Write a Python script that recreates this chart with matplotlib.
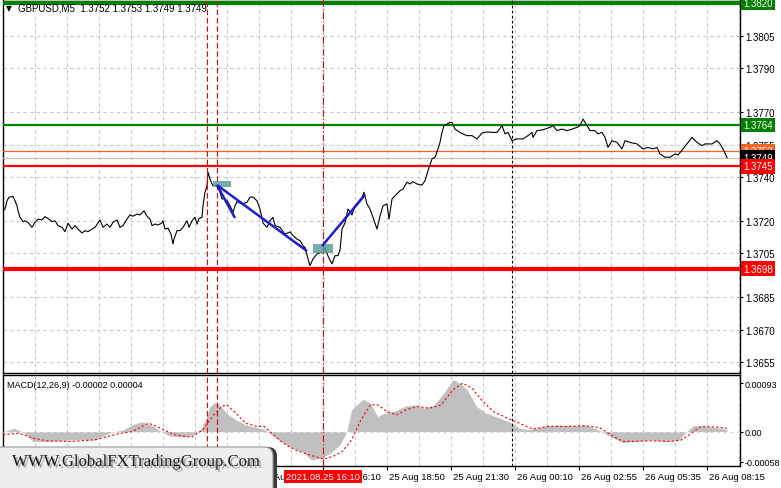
import matplotlib
matplotlib.use("Agg")
import matplotlib.pyplot as plt
import matplotlib.patheffects as pe
from matplotlib.patches import FancyBboxPatch, Rectangle
from matplotlib.transforms import IdentityTransform, blended_transform_factory

plt.rcParams['font.family'] = ['Liberation Sans', 'DejaVu Sans']

# ---- price line (M5 bar index, close) ----
bars = [0, 1, 2, 3, 5, 6, 7, 7.5, 8.5, 10, 11, 12.5, 14.5, 16, 17.5, 19.5, 21, 22.5, 24.5, 26,
        27.5, 29.5, 31, 32.5, 34.5, 36, 37.5, 39.5, 41, 42.5, 44.5, 46, 48.5, 50, 52, 53.5, 55, 57,
        58.5, 60, 62, 63.5, 65, 67, 68.5, 70.5, 72, 73.5, 74.5, 76, 77.5, 79.5, 80, 81, 82.5, 84,
        85, 85.5, 87, 88.5, 90, 92, 93, 94.5, 96, 97, 98, 99.5, 100, 101, 102, 102.5, 103.5, 104.5,
        105, 106.5, 107.5, 108.5, 109.5, 110.5, 112, 113.5, 115, 116, 117, 119.5, 122, 123.5, 125,
        127, 128.5, 130, 132, 133.5, 135, 136, 138.5, 141, 143.5, 145, 147, 148.5, 150, 151, 152.5,
        153.5, 155, 157, 158.5, 160, 161, 162.5, 164.5, 166, 167.5, 168.5, 169.5, 171, 172.5, 174.5,
        176, 177.5, 179.5, 180.5, 182, 183.5, 185, 187, 188.5, 190, 192, 193, 194.5, 196, 198.5,
        200, 202, 203.5, 205, 207, 209.5, 211, 212.5, 214.5, 216, 217.5, 218.5, 219.5, 220.5, 222,
        223.5, 224.5, 226, 228.5, 230, 232, 234.5, 237, 239.5, 242, 244.5, 247, 249.5, 251, 252.5,
        254.5, 257, 260, 262.5, 264.5, 265, 267, 270, 273.5, 275, 277, 279.5, 282, 284.5, 287,
        288.5, 290, 292, 293.5, 296, 297.5, 299.5, 301, 302.5, 304.5, 307, 309.5, 311, 313.5, 317,
        320, 322.5, 325, 327, 328.5, 331, 333.5, 336, 337.5, 340, 344.5, 347, 349.5, 351, 354.5,
        357, 358.5, 360, 362]
prices = [1.37246, 1.37254, 1.37292, 1.37308, 1.37312, 1.37292, 1.37269, 1.37246, 1.37216, 1.37196,
          1.37200, 1.37193, 1.37170, 1.37193, 1.37208, 1.37204, 1.37219, 1.37211, 1.37196, 1.37200,
          1.37178, 1.37170, 1.37150, 1.37189, 1.37162, 1.37178, 1.37162, 1.37144, 1.37155, 1.37150,
          1.37162, 1.37170, 1.37204, 1.37170, 1.37185, 1.37170, 1.37193, 1.37204, 1.37170, 1.37178,
          1.37208, 1.37227, 1.37221, 1.37231, 1.37227, 1.37246, 1.37221, 1.37208, 1.37178, 1.37185,
          1.37181, 1.37190, 1.37200, 1.37162, 1.37166, 1.37139, 1.37094, 1.37116, 1.37155, 1.37155,
          1.37170, 1.37200, 1.37170, 1.37200, 1.37216, 1.37185, 1.37211, 1.37216, 1.37269, 1.37331,
          1.37361, 1.37423, 1.37392, 1.37369, 1.37361, 1.37364, 1.37354, 1.37331, 1.37300, 1.37303,
          1.37292, 1.37269, 1.37239, 1.37269, 1.37288, 1.37277, 1.37285, 1.37309, 1.37309, 1.37292,
          1.37254, 1.37190, 1.37170, 1.37200, 1.37216, 1.37178, 1.37170, 1.37139, 1.37149, 1.37132,
          1.37116, 1.37109, 1.37086, 1.37078, 1.37025, 1.36994, 1.37025, 1.37048, 1.37055, 1.37052,
          1.37078, 1.37038, 1.37002, 1.37040, 1.37040, 1.37066, 1.37162, 1.37190, 1.37254, 1.37227,
          1.37269, 1.37285, 1.37308, 1.37331, 1.37277, 1.37254, 1.37216, 1.37162, 1.37222, 1.37269,
          1.37277, 1.37208, 1.37300, 1.37315, 1.37338, 1.37346, 1.37377, 1.37369, 1.37380, 1.37369,
          1.37364, 1.37384, 1.37430, 1.37484, 1.37492, 1.37530, 1.37560, 1.37606, 1.37637, 1.37644,
          1.37652, 1.37652, 1.37621, 1.37606, 1.37599, 1.37591, 1.37591, 1.37576, 1.37603, 1.37608,
          1.37606, 1.37606, 1.37637, 1.37599, 1.37606, 1.37568, 1.37576, 1.37576, 1.37591, 1.37606,
          1.37583, 1.37614, 1.37618, 1.37629, 1.37637, 1.37614, 1.37621, 1.37614, 1.37621, 1.37629,
          1.37637, 1.37667, 1.37637, 1.37614, 1.37614, 1.37599, 1.37606, 1.37583, 1.37537, 1.37568,
          1.37560, 1.37530, 1.37568, 1.37560, 1.37553, 1.37530, 1.37537, 1.37530, 1.37537, 1.37507,
          1.37492, 1.37492, 1.37507, 1.37502, 1.37530, 1.37583, 1.37560, 1.37545, 1.37553, 1.37553,
          1.37568, 1.37553, 1.37530, 1.37490]

# ---- levels ----
resistance_levels = [1.3820, 1.3764]
support_levels = [1.3745, 1.3698]
entry_level = 1.3752
bid_level = 1.3749

# ---- trend lines and signal zones ----
trend_bars = [(107, 116), (107, 152), (159.5, 181)]
trend_prices = [(1.37364, 1.37213), (1.37364, 1.37061), (1.37084, 1.37319)]
zone_bars = [(105, 114), (155, 165)]
zone_prices = [(1.37355, 1.37383), (1.37052, 1.37094)]

# ---- vertical markers ----
signal_bars = [102, 107]
entry_bar = 160
session_bar = 254.5

# ---- axis labels ----
price_ticks = [1.3805, 1.3790, 1.3770, 1.3755, 1.3740, 1.3720, 1.3705, 1.3685, 1.3670, 1.3655]
time_labels = ["25 Aug 2021", "25 Aug 05:30", "25 Aug 08:10", "25 Aug 10:50", "25 Aug 13:30",
               "25 Aug 16:10", "25 Aug 18:50", "25 Aug 21:30", "26 Aug 00:10", "26 Aug 02:55",
               "26 Aug 05:35", "26 Aug 08:15"]

# ---- MACD (values in 1e-5) ----
macd_bars = [0, 2, 5.6, 10.3, 15, 22, 34, 46, 49.2, 54, 60, 64.6, 69.3, 74, 78.7, 83.4, 90.5, 95.2,
             98.8, 101.1, 103.5, 105.9, 108.2, 111.8, 116.5, 121.2, 127.1, 130.6, 134.2, 138.9,
             143.6, 149.5, 154.2, 159, 163.7, 168.4, 171.9, 174.3, 177.8, 180.2, 183.7, 187.3,
             190.8, 196.7, 201.4, 206.1, 210.9, 215.6, 220.3, 225, 228.6, 232.1, 236.8, 241.5,
             248.6, 254.5, 258.1, 262.8, 269.9, 276.9, 284, 291.1, 295.8, 300.5, 305.3, 310,
             317.1, 324.1, 331.2, 338.3, 341.8, 345.4, 352.4, 361.9]
macd_hist = [-1.9, 1.9, 6.4, -1.9, -19.3, -19.3, -16.1, -16.1, -9.7, -1.9, 3.2, 12.9, 18.7, 12.9,
             0, -8.4, -10.9, -6.4, 4.5, 22.5, 48.3, 56, 51.5, 35.4, 22.5, 12.9, 7.7, 4.5, -6.4,
             -19.3, -30.2, -38.6, -54.7, -51.5, -41.8, -25.7, 0, 41.8, 54.7, 62.4, 54.7, 29,
             35.4, 40.5, 49.5, 51.5, 45, 51.5, 74, 99.7, 93.3, 80.4, 48.3, 35.4, 25.7, 16.1,
             6.4, 3.2, 9.7, 12.9, 10.9, 12.9, 6.4, -3.2, -12.9, -21.2, -19.3, -16.1, -19.3,
             -16.1, 0, 11.6, 9.7, 4.5]
signal_bars_macd = [0, 8, 15, 22, 34, 46, 57.5, 64.6, 72.8, 78.7, 85.8, 94.1, 100, 104.7, 109.4,
                    111.8, 116.5, 121.2, 127.1, 130.6, 135.4, 140.1, 146, 153.1, 160.1, 164.9,
                    169.6, 174.3, 179, 183.7, 187.3, 192, 196.7, 201.4, 207.3, 213.2, 219.1, 225,
                    229.8, 234.5, 239.2, 245.1, 252.2, 258.1, 265.1, 272.2, 281.7, 291.1, 298.2,
                    305.3, 310, 324.1, 333.6, 339.5, 344.2, 348.9, 357.2, 361.9]
macd_signal = [-6.4, -3.2, -12.9, -18, -19.3, -16.1, -4.5, 0, 16.1, 6.4, -6.4, -10.9, 3.2, 29,
               48.3, 51.5, 35.4, 16.1, 9.7, 9.7, -6.4, -22.5, -35.4, -45, -53.4, -48.3, -38.6,
               -16.1, 22.5, 51.5, 51.5, 38.6, 32.2, 41.8, 48.3, 45, 51.5, 80.4, 93.3, 83.7, 61.1,
               38.6, 25.7, 16.1, 4.5, 9.7, 9.7, 10.9, 7.7, -9.7, -19.3, -18, -19.3, -16.1, -3.2,
               9.7, 8.4, 6.4]

W, H = 781, 489
fig = plt.figure(figsize=(W / 100, H / 100), dpi=100)
fig.patch.set_facecolor("white")


def frac(x0, y0, x1, y1):
    # pixel box (top-left origin) -> figure fraction
    return [x0 / W, (H - y1) / H, (x1 - x0) / W, (y1 - y0) / H]


ax = fig.add_axes(frac(3, 0, 740, 374))
ax2 = fig.add_axes(frac(3, 376, 740, 467))

XMAX = 368.5
px_per_pip = 21780.0
ax.set_xlim(0, XMAX)
ax.set_ylim(1.3820 - 370 / px_per_pip, 1.3820 + 4 / px_per_pip)
ax2.set_xlim(0, XMAX)
ax2.set_ylim(-66.6, 109.1)

grid_kw = dict(color="#c8c8c8", linestyle=(0, (3, 3)), linewidth=0.8)
for a in (ax, ax2):
    a.set_xticks(range(0, 369, 32))
    a.set_xticks(range(16, 369, 32), minor=True)
    a.xaxis.grid(True, which="both", **grid_kw)
    a.set_axisbelow(True)
    for s in a.spines.values():
        s.set_color("black")
        s.set_linewidth(1.0)
    a.yaxis.tick_right()
    a.tick_params(axis="y", which="both", length=2, width=0.8, pad=1.5, labelsize=7,
                  colors="black")
    a.tick_params(axis="x", which="both", length=0, labelbottom=False)

ax.set_yticks(price_ticks)
ax.set_yticklabels([f"{p:.4f}" for p in price_ticks])
ax.yaxis.grid(True, **grid_kw)

ax2.set_yticks([93, 0, -58])
ax2.set_yticklabels(["0.00093", "0.00", "-0.00058"])
ax2.tick_params(axis="y", labelsize=6.5, pad=1.2)
ax2.tick_params(axis="x", which="major", length=3, width=0.8, direction="out")

# price
ax.plot(bars, prices, color="black", linewidth=0.8, zorder=4)

# horizontal levels
ax.axhline(resistance_levels[0], color="#008000", linewidth=3.0, zorder=3)
ax.axhline(resistance_levels[1], color="#008000", linewidth=1.6, zorder=3)
ax.axhline(entry_level, color="#f26522", linewidth=0.9, zorder=3)
ax.axhline(bid_level, color="#c8bcb4", linewidth=0.9, zorder=3)
ax.axhline(support_levels[0], color="#ff0000", linewidth=1.6, zorder=3)
ax.axhline(support_levels[1], color="#ff0000", linewidth=3.0, zorder=3)

# vertical markers
for a in (ax, ax2):
    for b in signal_bars:
        a.axvline(b, color="#ee0000", linewidth=0.8, linestyle=(0, (5, 2.5)), zorder=5)
    a.axvline(entry_bar, color="#ee0000", linewidth=0.8, linestyle=(0, (6, 2, 1, 2)), zorder=5)
    a.axvline(session_bar, color="black", linewidth=0.8, linestyle=(0, (2.5, 2)), zorder=5)

# signal zones and trend lines
for (b0, b1), (p0, p1) in zip(zone_bars, zone_prices):
    ax.add_patch(Rectangle((b0, p0), b1 - b0, p1 - p0, facecolor="#5f9ea0", alpha=0.85,
                           edgecolor="none", zorder=5))
for (b0, b1), (p0, p1) in zip(trend_bars, trend_prices):
    ax.plot([b0, b1], [p0, p1], color="#1f1fcf", linewidth=1.8, zorder=6,
            solid_capstyle="butt")

# right-side price tags
tag_x = blended_transform_factory(ax.transAxes, ax.transData)
tags = [(resistance_levels[0], "#008000", "white"),
        (resistance_levels[1], "#008000", "white"),
        (entry_level, "#f26522", "white"),
        (bid_level, "black", "white"),
        (support_levels[0], "#ff0000", "white"),
        (support_levels[1], "#ff0000", "white")]
for lvl, bg, fg in tags:
    ax.text(1.0042, lvl, f"{lvl:.4f}", transform=tag_x, ha="left", va="center",
            fontsize=7, color=fg, clip_on=False, zorder=10,
            bbox=dict(boxstyle="square,pad=0.25", facecolor=bg, edgecolor="none"))

# title
ax.text(0.004, 0.978, "\u25BC", transform=ax.transAxes, fontsize=5.5, va="center",
        ha="left", color="black", family="DejaVu Sans")
ax.text(0.021, 0.976, "GBPUSD,M5  1.3752 1.3753 1.3749 1.3749", transform=ax.transAxes,
        fontsize=7, va="center", ha="left", color="black")

# MACD
ax2.fill_between(macd_bars, macd_hist, 0, color="#c0c0c0", linewidth=0, zorder=2)
ax2.axhline(0, color="#d8d8d8", linewidth=0.8, linestyle=(0, (3, 3)), zorder=3)
ax2.plot(signal_bars_macd, macd_signal, color="#ff0000", linewidth=0.8,
         linestyle=(0, (2, 2)), zorder=4)
ax2.text(0.006, 0.9, "MACD(12,26,9) -0.00002 0.00004", transform=ax2.transAxes,
         fontsize=6.5, va="center", ha="left", color="black")

# time labels
time_tr = blended_transform_factory(ax2.transData, ax2.transAxes)
for i, lab in enumerate(time_labels):
    ax2.text(i * 32 + 1, -0.115, lab, transform=time_tr, ha="left", va="center",
             fontsize=6.8, color="black", clip_on=False)
ax2.text(entry_bar, -0.115, "2021.08.25 16:10", transform=time_tr,
         ha="center", va="center", fontsize=6.8, color="white", clip_on=False, zorder=10,
         bbox=dict(boxstyle="square,pad=0.25", facecolor="#ff0000", edgecolor="none"))

# watermark logo (pixel coords, origin bottom-left)
shadow = FancyBboxPatch((-8, -14), 285, 55, boxstyle="round,pad=0,rounding_size=9",
                        transform=IdentityTransform(), facecolor="#3a3a3a",
                        edgecolor="none", zorder=20)
logo = FancyBboxPatch((-10, -12), 283, 53, boxstyle="round,pad=0,rounding_size=9",
                      transform=IdentityTransform(), facecolor="#eeeeee",
                      edgecolor="#9a9a9a", linewidth=0.8, zorder=21)
fig.add_artist(shadow)
fig.add_artist(logo)
fig.text(136 / W, (H - 463) / H, "WWW.GlobalFXTradingGroup.Com", fontsize=12,
         family="Liberation Serif", ha="center", va="center", color="#1a1a1a", zorder=22,
         path_effects=[pe.SimplePatchShadow(offset=(1.5, -1.5), shadow_rgbFace="#777777",
                                            alpha=0.6), pe.Normal()])

fig.savefig("out.png", dpi=100)
